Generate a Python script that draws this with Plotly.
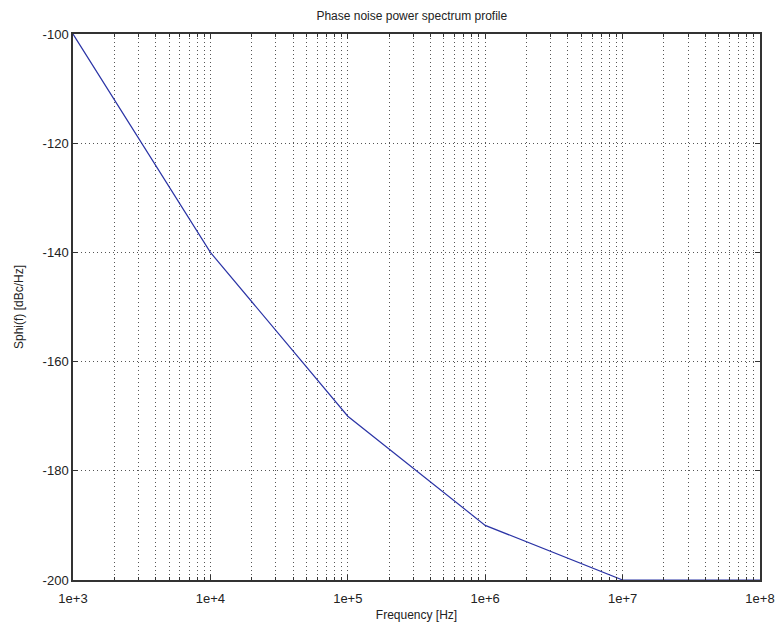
import plotly.graph_objects as go

# frequency offsets [Hz] and phase noise [dBc/Hz]
freq = [1e3, 1e4, 1e5, 1e6, 1e7, 1e8]
sphi = [-100, -140, -170, -190, -200, -200]

x_ticks = [1e3, 1e4, 1e5, 1e6, 1e7, 1e8]
x_labels = ["1e+3", "1e+4", "1e+5", "1e+6", "1e+7", "1e+8"]
y_ticks = [-200, -180, -160, -140, -120, -100]
y_labels = ["-200", "-180", "-160", "-140", "-120", "-100"]

trace = go.Scatter(x=freq, y=sphi, mode="lines",
                   line=dict(color="#2b34a6", width=1.2),
                   showlegend=False)

grid = "#555"
dash = "1px,3px"

layout = go.Layout(
    width=775, height=619,
    paper_bgcolor="white", plot_bgcolor="white",
    font=dict(family="Liberation Sans, Arial, sans-serif", size=12, color="#222"),
    margin=dict(l=65, r=23, t=26, b=47),
    title=dict(text="Phase noise power spectrum profile", x=0.521, xanchor="center",
               y=0.988, yanchor="middle", font=dict(size=12)),
    xaxis=dict(type="log", range=[3, 8], tickvals=x_ticks, ticktext=x_labels,
               title=dict(text="Frequency [Hz]", standoff=5, font=dict(size=12)),
               tickfont=dict(size=13), ticklabelstandoff=6, automargin=False,
               showgrid=True, gridcolor=grid, griddash=dash, gridwidth=1,
               ticks="inside", ticklen=5, tickcolor="#333",
               showline=True, linecolor="#333", linewidth=1.5, mirror="allticks",
               zeroline=False,
               minor=dict(tickvals=[m * 10 ** e for e in range(3, 8) for m in range(2, 10)],
                          showgrid=True, gridcolor=grid, griddash=dash, gridwidth=1,
                          ticks="inside", ticklen=3, tickcolor="#333")),
    yaxis=dict(range=[-200, -100], tickvals=y_ticks, ticktext=y_labels,
               title=dict(text="Sphi(f) [dBc/Hz]", standoff=16, font=dict(size=12)),
               tickfont=dict(size=13), automargin=False,
               showgrid=True, gridcolor=grid, griddash=dash, gridwidth=1,
               ticks="inside", ticklen=5, tickcolor="#333",
               showline=True, linecolor="#333", linewidth=1.5, mirror="allticks",
               zeroline=False),
)

fig = go.Figure(data=[trace], layout=layout)
fig.write_html("out.html")
